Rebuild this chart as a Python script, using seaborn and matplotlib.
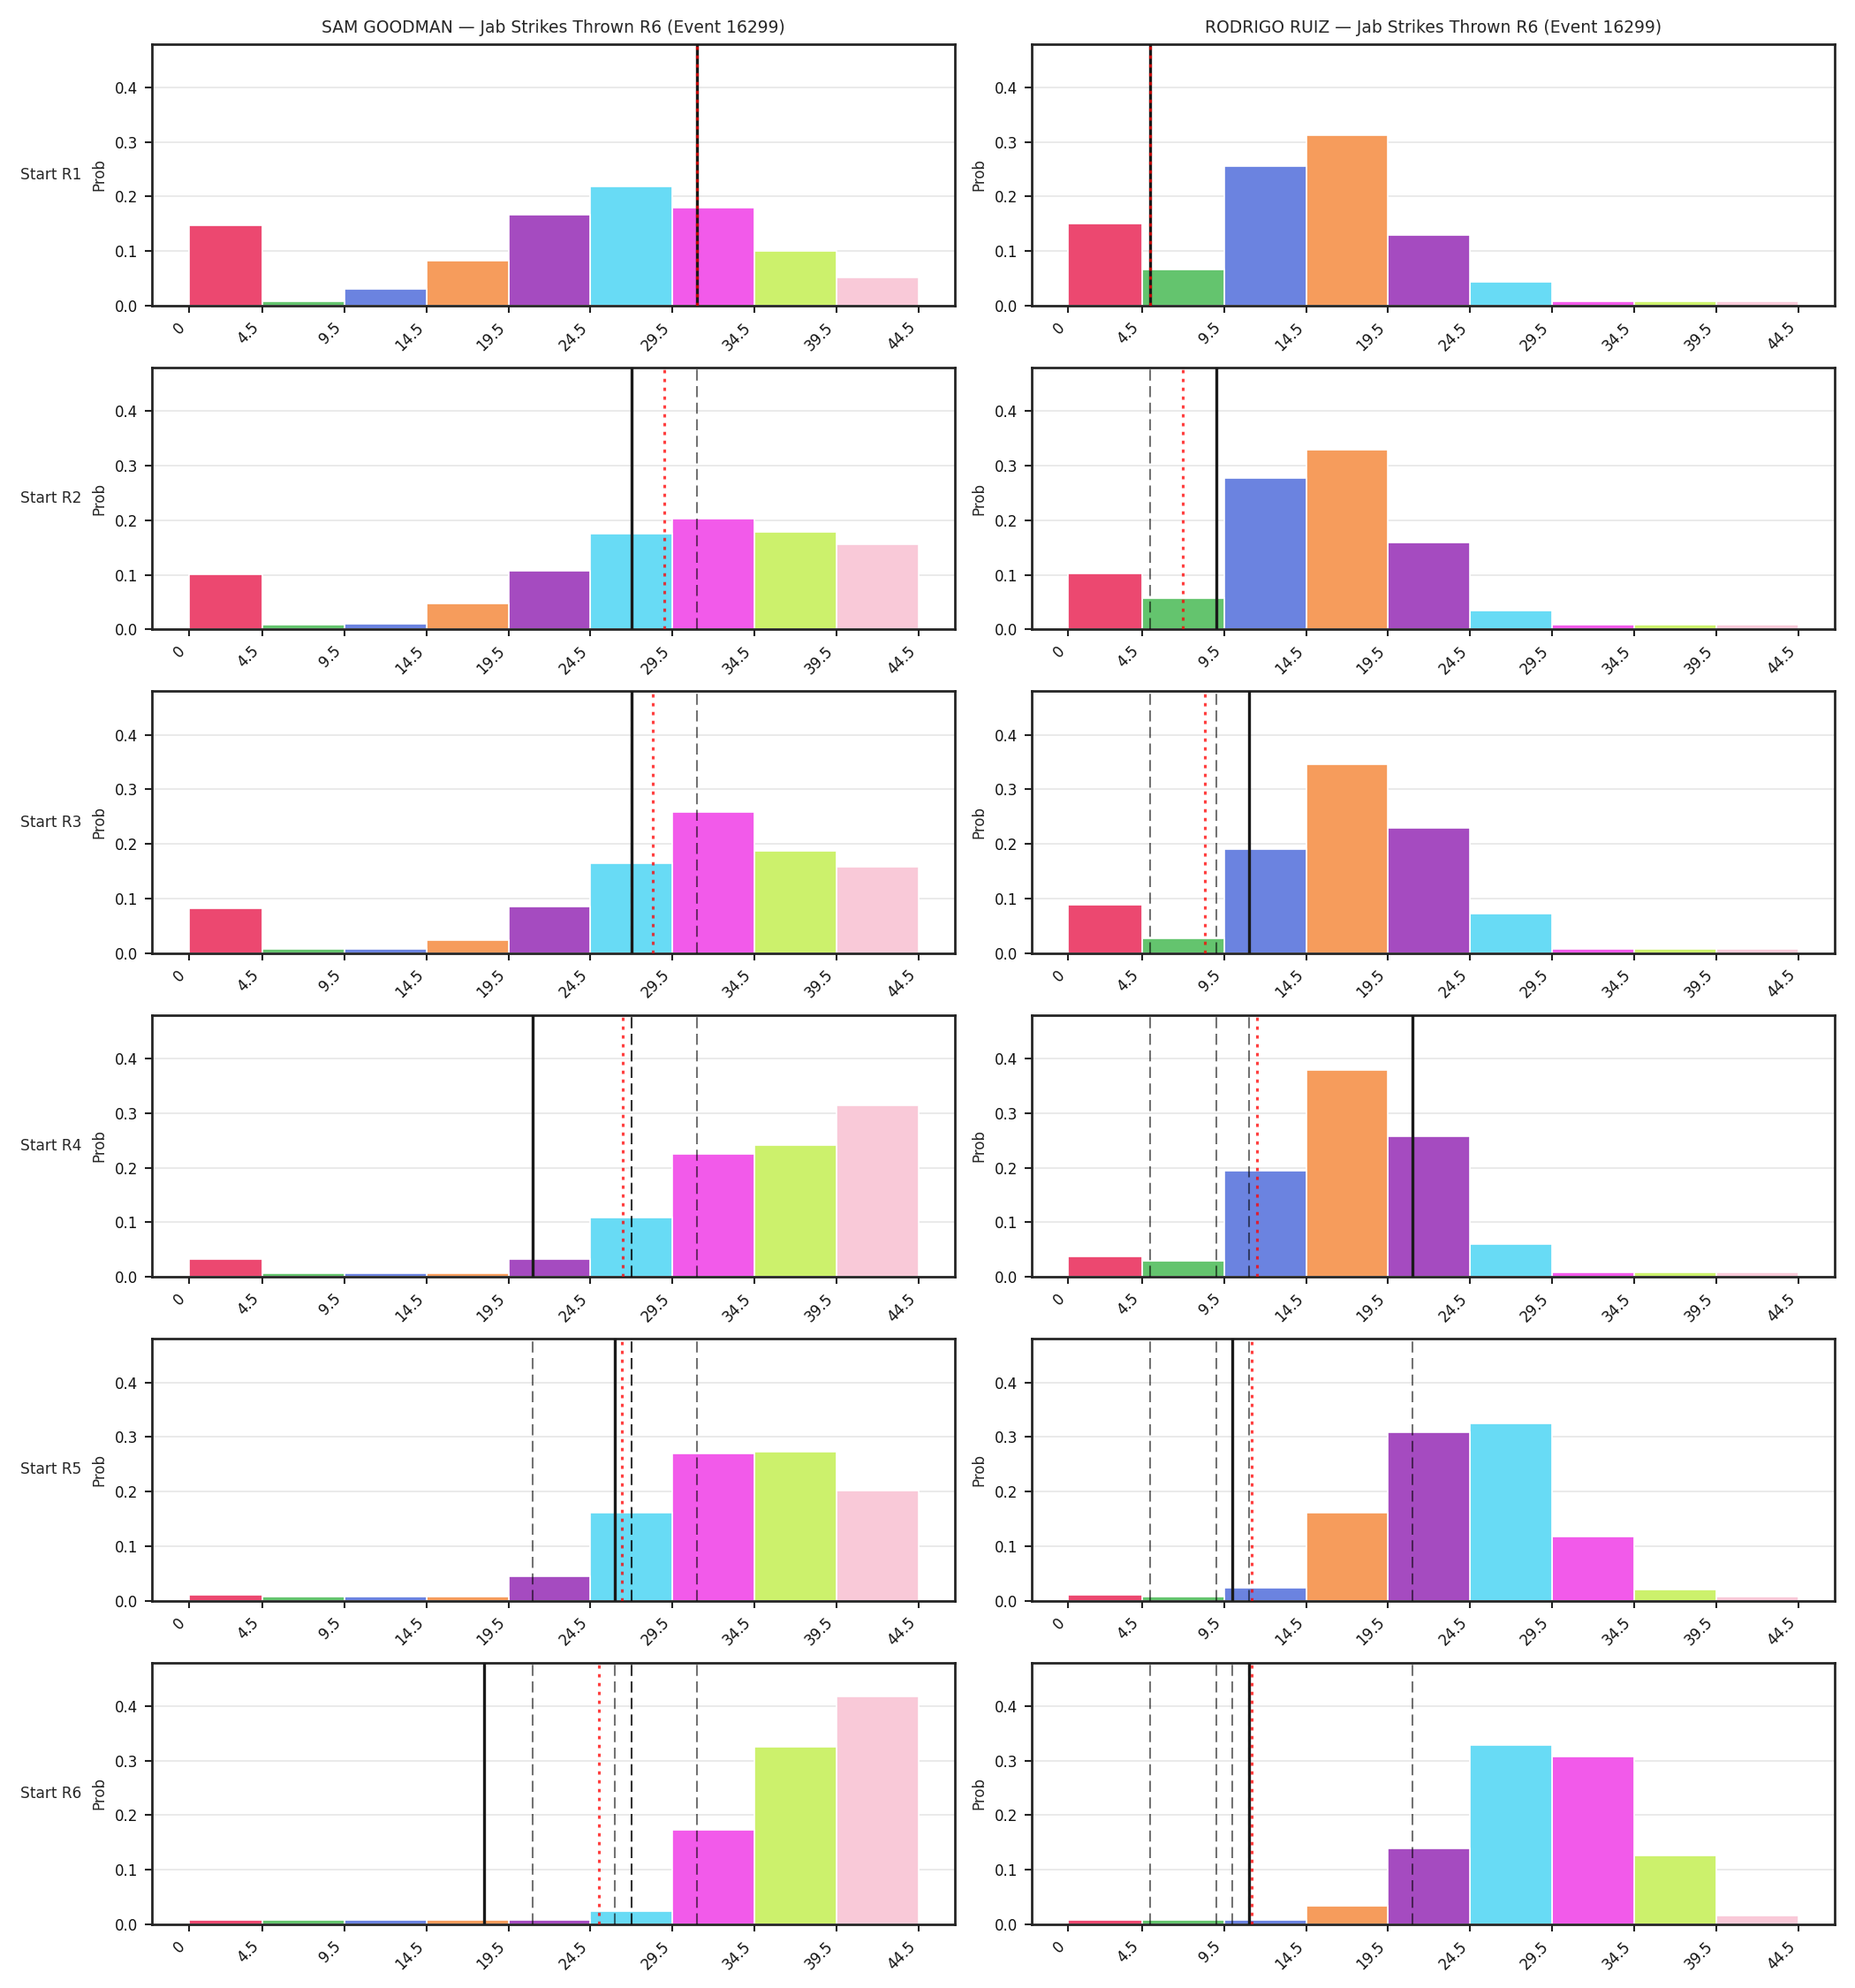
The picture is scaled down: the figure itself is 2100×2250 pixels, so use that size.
import matplotlib
matplotlib.use("Agg")
import matplotlib.pyplot as plt
import numpy as np
import pandas as pd
import seaborn as sns

# ---------------- data ----------------
bin_edges = [0, 4.5, 9.5, 14.5, 19.5, 24.5, 29.5, 34.5, 39.5, 44.5]
tick_labels = ["0", "4.5", "9.5", "14.5", "19.5", "24.5", "29.5", "34.5", "39.5", "44.5"]
bin_names = ["0-4", "5-9", "10-14", "15-19", "20-24", "25-29", "30-34", "35-39", "40-44"]
bar_colors = ["#EC4870", "#64C46E", "#6B83E0", "#F69C5C", "#A54BC0",
              "#68DBF5", "#F25AEA", "#CCF16C", "#F9C9D8"]

round_labels = ["Start R1", "Start R2", "Start R3", "Start R4", "Start R5", "Start R6"]
fighters = ["SAM GOODMAN", "RODRIGO RUIZ"]
title_suffix = " \u2014 Jab Strikes Thrown R6 (Event 16299)"

goodman_r1 = [0.148, 0.008, 0.030, 0.082, 0.166, 0.218, 0.179, 0.100, 0.052]
goodman_r2 = [0.101, 0.008, 0.011, 0.048, 0.107, 0.175, 0.203, 0.179, 0.156]
goodman_r3 = [0.083, 0.008, 0.008, 0.024, 0.086, 0.164, 0.258, 0.187, 0.159]
goodman_r4 = [0.033, 0.007, 0.007, 0.007, 0.033, 0.108, 0.226, 0.242, 0.314]
goodman_r5 = [0.011, 0.008, 0.008, 0.008, 0.045, 0.161, 0.270, 0.273, 0.201]
goodman_r6 = [0.008, 0.008, 0.008, 0.008, 0.008, 0.025, 0.174, 0.326, 0.417]

ruiz_r1 = [0.150, 0.066, 0.255, 0.312, 0.130, 0.043, 0.008, 0.008, 0.008]
ruiz_r2 = [0.103, 0.058, 0.278, 0.330, 0.159, 0.035, 0.008, 0.008, 0.008]
ruiz_r3 = [0.089, 0.027, 0.190, 0.346, 0.229, 0.072, 0.008, 0.008, 0.008]
ruiz_r4 = [0.037, 0.030, 0.195, 0.379, 0.257, 0.061, 0.009, 0.008, 0.008]
ruiz_r5 = [0.011, 0.008, 0.024, 0.162, 0.309, 0.325, 0.118, 0.021, 0.008]
ruiz_r6 = [0.008, 0.008, 0.008, 0.034, 0.140, 0.329, 0.308, 0.127, 0.017]

# per-round actual values (solid line) and running mean (red dotted)
goodman_actual = [31, 27, 27, 21, 26, 18]
goodman_running_mean = [31.0, 29.0, 28.33, 26.5, 26.4, 25.0]
ruiz_actual = [5, 9, 11, 21, 10, 11]
ruiz_running_mean = [5.0, 7.0, 8.33, 11.5, 11.2, 11.17]

goodman_probs = [goodman_r1, goodman_r2, goodman_r3, goodman_r4, goodman_r5, goodman_r6]
ruiz_probs = [ruiz_r1, ruiz_r2, ruiz_r3, ruiz_r4, ruiz_r5, ruiz_r6]

# ---------------- plotting ----------------
sns.set_theme(style="ticks")
plt.rcParams["font.family"] = ["DejaVu Sans"]

fig, axes = plt.subplots(6, 2, figsize=(14, 15), dpi=150)
fig.subplots_adjust(left=0.082, right=0.989, top=0.978, bottom=0.032,
                    hspace=0.236, wspace=0.096)

centers = [(bin_edges[i] + bin_edges[i + 1]) / 2 for i in range(len(bin_names))]
palette = dict(zip(bin_names, bar_colors))

columns = [
    (fighters[0], goodman_probs, goodman_actual, goodman_running_mean),
    (fighters[1], ruiz_probs, ruiz_actual, ruiz_running_mean),
]

for c, (name, probs, actual, rmean) in enumerate(columns):
    for r in range(6):
        ax = axes[r, c]
        df = pd.DataFrame({"center": centers, "prob": probs[r], "bin": bin_names})
        sns.histplot(data=df, x="center", weights="prob", bins=bin_edges,
                     hue="bin", hue_order=bin_names, palette=palette,
                     multiple="layer", alpha=1.0, edgecolor="white",
                     linewidth=0.8, legend=False, ax=ax)
        # previous rounds' values
        for v in actual[:r]:
            ax.axvline(v, color="black", alpha=0.55, linestyle=(0, (6, 3)),
                       linewidth=1.0, zorder=3)
        ax.axvline(actual[r], color="#1a1a1a", linestyle="-", linewidth=1.6, zorder=4)
        ax.axvline(rmean[r], color="red", linestyle=(0, (1.2, 2)), linewidth=1.5,
                   alpha=0.75, zorder=5)

        ax.set_ylim(0, 0.48)
        ax.set_yticks([0.0, 0.1, 0.2, 0.3, 0.4])
        ax.set_xticks(bin_edges)
        ax.set_xticklabels(tick_labels, rotation=45, ha="right",
                           rotation_mode="default")
        ax.tick_params(axis="both", labelsize=8, length=4, width=1.0, color="#222222",
                       labelcolor="#111111")
        ax.set_ylabel("Prob", fontsize=8)
        ax.set_xlabel("")
        ax.grid(axis="y", color="#e6e6e6", linewidth=0.8)
        ax.grid(axis="x", visible=False)
        ax.set_axisbelow(True)
        for sp in ax.spines.values():
            sp.set_visible(True)
            sp.set_color("#222222")
            sp.set_linewidth(1.3)
        if r == 0:
            ax.set_title(name + title_suffix, fontsize=9)
        if c == 0:
            pos = ax.get_position()
            fig.text(0.011, (pos.y0 + pos.y1) / 2, round_labels[r],
                     ha="left", va="center", fontsize=8.2)

fig.savefig("out.png", dpi=150)
